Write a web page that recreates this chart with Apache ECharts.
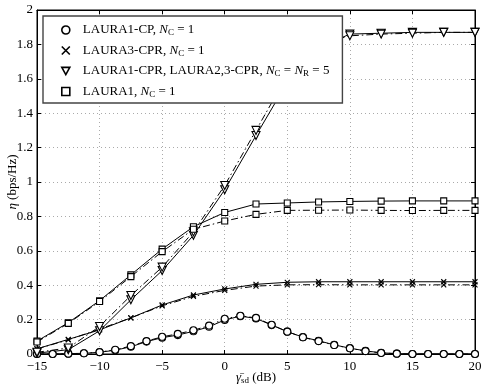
<!DOCTYPE html>
<html>
<head>
<meta charset="utf-8">
<script src="https://cdn.jsdelivr.net/npm/echarts@6/dist/echarts.min.js"></script>
<style>
  html, body { margin: 0; padding: 0; background: #fff; }
  #main { width: 485px; height: 388px; }
</style>
</head>
<body>
<div id="main"></div>
<script>
// x positions (dB)
var xFine = [-15, -13.75, -12.5, -11.25, -10, -8.75, -7.5, -6.25, -5, -3.75, -2.5, -1.25, 0, 1.25, 2.5,
  3.75, 5, 6.25, 7.5, 8.75, 10, 11.25, 12.5, 13.75, 15, 16.25, 17.5, 18.75, 20];
var xCoarse = [-15, -12.5, -10, -7.5, -5, -2.5, 0, 2.5, 5, 7.5, 10, 12.5, 15, 17.5, 20];

// LAURA1-CP, N_C = 1
var cpSolid = [0, 0, 0.002, 0.004, 0.01, 0.022, 0.042, 0.072, 0.095, 0.11, 0.132, 0.158, 0.198, 0.22, 0.207,
  0.168, 0.13, 0.098, 0.077, 0.053, 0.034, 0.018, 0.007, 0.002, 0, 0, 0, 0, 0];
var cpDash = [0, 0, 0.002, 0.004, 0.011, 0.025, 0.046, 0.075, 0.1, 0.117, 0.138, 0.165, 0.205, 0.222, 0.21,
  0.17, 0.13, 0.097, 0.075, 0.052, 0.033, 0.017, 0.006, 0.002, 0, 0, 0, 0, 0];
// LAURA3-CPR, N_C = 1
var crSolid = [0.03, 0.085, 0.14, 0.21, 0.285, 0.343, 0.378, 0.405, 0.417, 0.42, 0.42, 0.42, 0.42, 0.42, 0.42];
var crDash = [0.03, 0.082, 0.145, 0.21, 0.28, 0.335, 0.37, 0.395, 0.402, 0.403, 0.402, 0.402, 0.402, 0.402, 0.402];
// LAURA1-CPR, LAURA2,3-CPR, N_C = N_R = 5
var triSolid = [0.005, 0.025, 0.135, 0.315, 0.485, 0.69, 0.955, 1.27, 1.58, 1.78, 1.86, 1.865, 1.87, 1.87, 1.87];
var triDash = [0.01, 0.035, 0.16, 0.34, 0.505, 0.71, 0.98, 1.3, 1.62, 1.8, 1.85, 1.86, 1.865, 1.87, 1.87];
// LAURA1, N_C = 1
var sqSolid = [0.075, 0.182, 0.31, 0.46, 0.61, 0.74, 0.823, 0.872, 0.878, 0.884, 0.887, 0.889, 0.89, 0.89, 0.89];
var sqDash = [0.07, 0.178, 0.305, 0.45, 0.595, 0.725, 0.773, 0.812, 0.835, 0.836, 0.837, 0.835, 0.834, 0.835, 0.835];

var labels = {
  cp: '{sp|}{a|LAURA1-CP, }{i|N}{s|C}{a| = 1}',
  cr: '{sp|}{a|LAURA3-CPR, }{i|N}{s|C}{a| = 1}',
  tri: '{sp|}{a|LAURA1-CPR, LAURA2,3-CPR, }{i|N}{s|C}{a| = }{i|N}{s|R}{a| = 5}',
  sq: '{sp|}{a|LAURA1, }{i|N}{s|C}{a| = 1}'
};

var FONT = '"Liberation Serif", "DejaVu Serif", serif';
var crossPath = 'path://M0,0L10,10M10,0L0,10';
var triPath = 'path://M0,0L10,0L5,9Z';

function pairs(xs, ys) {
  return xs.map(function (x, i) { return [x, ys[i]]; });
}

function mk(name, xs, ys, symbol, size, dashed) {
  return {
    name: name,
    type: 'line',
    data: pairs(xs, ys),
    symbol: symbol,
    symbolSize: size,
    showSymbol: true,
    animation: false,
    lineStyle: { color: '#000', width: 1, type: dashed ? [7, 3, 1.5, 3] : 'solid' },
    itemStyle: { color: '#fff', borderColor: '#000', borderWidth: 1.1 },
    emphasis: { disabled: true }
  };
}

var chart = echarts.init(document.getElementById('main'));

var axisLbl = { fontFamily: FONT, fontSize: 13, color: '#000' };
var grayDots = { lineStyle: { color: '#aaa', type: [1, 3], width: 1 } };

var option = {
  animation: false,
  grid: {
    left: 37, right: 10, top: 10, bottom: 34,
    outerBoundsMode: 'none', containLabel: false,
    show: true, borderColor: '#000', borderWidth: 1
  },
  legend: {
    orient: 'vertical',
    left: 43,
    top: 16,
    padding: [7, 13, 4, 18],
    itemGap: 6,
    itemWidth: 8,
    itemHeight: 8,
    backgroundColor: '#fff',
    borderColor: '#444',
    borderWidth: 1.4,
    selectedMode: false,
    itemStyle: { borderWidth: 1.6 },
    data: [
      { name: 'cp', icon: 'circle' },
      { name: 'cr', icon: crossPath },
      { name: 'tri', icon: triPath },
      { name: 'sq', icon: 'rect' }
    ],
    formatter: function (n) { return labels[n]; },
    textStyle: {
      fontFamily: FONT, fontSize: 13, color: '#000', lineHeight: 14,
      rich: {
        sp: { width: 8 },
        a: { fontFamily: FONT, fontSize: 13 },
        i: { fontFamily: FONT, fontSize: 13, fontStyle: 'italic' },
        s: { fontFamily: FONT, fontSize: 9, padding: [6, 0, 0, 0] }
      }
    }
  },
  xAxis: [{
    type: 'value', min: -15, max: 20, interval: 5,
    name: '{g|γ̄}{s|sd}{a| (dB)}', nameLocation: 'middle', nameGap: 16, nameMoveOverlap: false,
    nameTextStyle: {
      color: '#000',
      rich: {
        g: { fontFamily: FONT, fontSize: 13, fontStyle: 'italic' },
        s: { fontFamily: FONT, fontSize: 9, padding: [6, 0, 0, 0] },
        a: { fontFamily: FONT, fontSize: 13 }
      }
    },
    axisLine: { onZero: false, lineStyle: { color: '#000' } },
    axisTick: { inside: true, length: 4, lineStyle: { color: '#000' } },
    axisLabel: Object.assign({ margin: 6, formatter: function (v) { return String(v).replace('-', '\u2212'); } }, axisLbl),
    splitLine: grayDots
  }, {
    type: 'value', position: 'top', min: -15, max: 20, interval: 5,
    axisLine: { onZero: false, lineStyle: { color: '#000' } },
    axisTick: { inside: true, length: 4, lineStyle: { color: '#000' } },
    axisLabel: { show: false }, splitLine: { show: false }
  }],
  yAxis: [{
    type: 'value', min: 0, max: 2, interval: 0.2,
    name: '{i|η}{a| (bps/Hz)}', nameLocation: 'middle', nameGap: 18, nameMoveOverlap: false,
    nameTextStyle: {
      color: '#000',
      rich: {
        i: { fontFamily: FONT, fontSize: 13, fontStyle: 'italic' },
        a: { fontFamily: FONT, fontSize: 13 }
      }
    },
    axisLine: { onZero: false, lineStyle: { color: '#000' } },
    axisTick: { inside: true, length: 4, lineStyle: { color: '#000' } },
    axisLabel: Object.assign({ margin: 4, formatter: function (v) { return String(+v.toFixed(1)); } }, axisLbl),
    splitLine: grayDots
  }, {
    type: 'value', position: 'right', min: 0, max: 2, interval: 0.2,
    axisLine: { onZero: false, lineStyle: { color: '#000' } },
    axisTick: { inside: true, length: 4, lineStyle: { color: '#000' } },
    axisLabel: { show: false }, splitLine: { show: false }
  }],
  series: [
    mk('cp', xFine, cpSolid, 'circle', 7, false),
    mk('cp', xFine, cpDash, 'circle', 7, true),
    mk('cr', xCoarse, crSolid, crossPath, 5, false),
    mk('cr', xCoarse, crDash, crossPath, 5, true),
    mk('tri', xCoarse, triSolid, triPath, 8, false),
    mk('tri', xCoarse, triDash, triPath, 8, true),
    mk('sq', xCoarse, sqSolid, 'rect', 6, false),
    mk('sq', xCoarse, sqDash, 'rect', 6, true)
  ]
};

chart.setOption(option);

window.addEventListener('resize', function () {
  chart.resize();
});
</script>
</body>
</html>
